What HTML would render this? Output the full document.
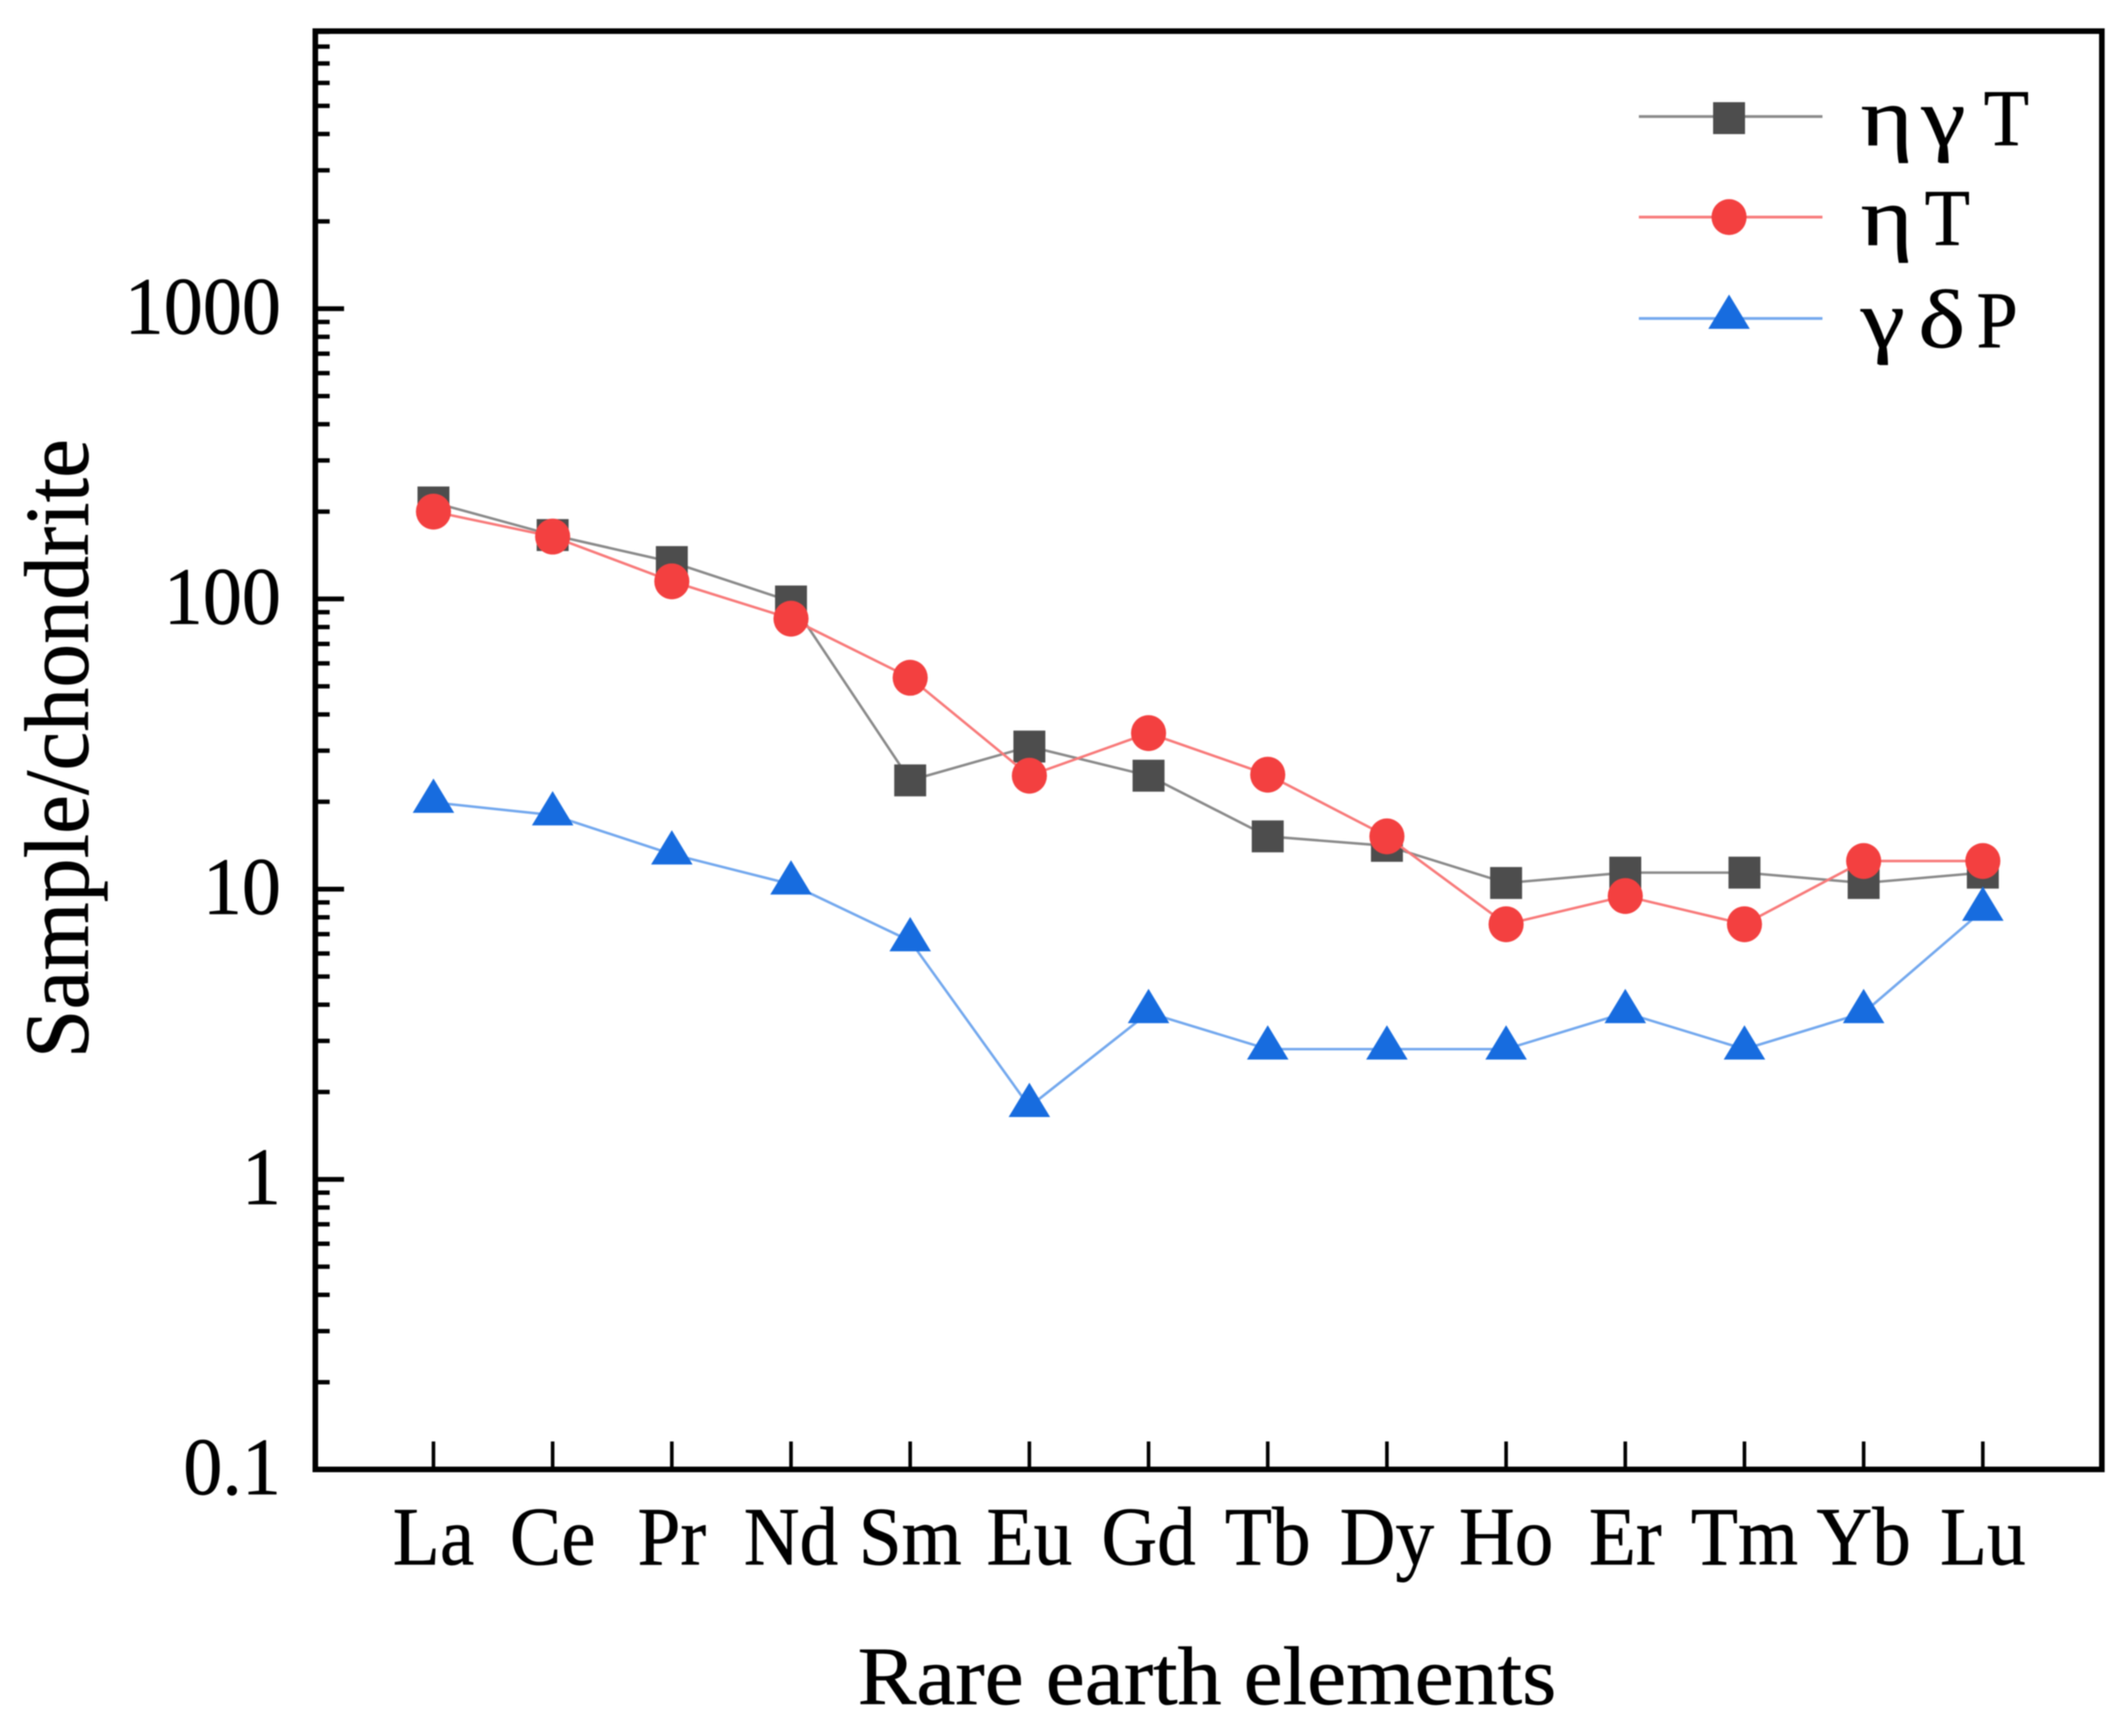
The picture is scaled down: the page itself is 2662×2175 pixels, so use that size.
<!DOCTYPE html>
<html lang="en">
<head>
<meta charset="utf-8">
<title>Rare earth element patterns</title>
<style>
html,body{margin:0;padding:0;background:#fff;width:2662px;height:2175px;overflow:hidden}
svg{display:block;filter:blur(0.7px)}
text{font-family:"Liberation Serif","DejaVu Serif",serif;fill:#000;stroke:#000;stroke-width:0.7px}
</style>
</head>
<body>
<svg id="chart" xmlns="http://www.w3.org/2000/svg" width="2662" height="2175" viewBox="0 0 2662 2175">
  <rect x="0" y="0" width="2662" height="2175" fill="#fff"/>
  <g id="ticks"></g>
  <g id="labels"></g>
  <g id="series"></g>
  <rect x="395" y="39" width="2238" height="1802" fill="none" stroke="#000" stroke-width="7"/>
  <g id="legend"></g>
  <g transform="translate(1512,2135) scale(1.06,1)">
    <text text-anchor="middle" font-size="104">Rare earth elements</text>
  </g>
  <g transform="translate(110,938) rotate(-90) scale(0.965,1)">
    <text text-anchor="middle" font-size="114">Sample/chondrite</text>
  </g>
</svg>
<script>
const categories = ["La","Ce","Pr","Nd","Sm","Eu","Gd","Tb","Dy","Ho","Er","Tm","Yb","Lu"];
const seriesNames = ["η γ T","η T","γ δ P"];
const valuesEtaGammaT = [215,166,134,98,23.7,31,24.6,15.2,14.1,10.5,11.4,11.4,10.5,11.4];
const valuesEtaT = [200,164,115,85.5,53.5,24.6,34.5,24.8,15.2,7.57,9.47,7.57,12.5,12.5];
const valuesGammaDeltaP = [19.9,18,13.2,10.4,6.63,1.78,3.75,2.81,2.81,2.81,3.75,2.81,3.75,8.45];
const yTickValues = [0.1,1,10,100,1000];
const yTickLabels = ["0.1","1","10","100","1000"];
const minorMultipliers = [2,3,4,5,6,7,8,9];

const NS = "http://www.w3.org/2000/svg";
const AXIS_LEFT = 395, AXIS_BOTTOM = 1841, AXIS_TOP = 39;
function xPos(i){ return 543 + 149.3 * i; }
function yPos(v){ return 1114 - 363.6 * (Math.log10(v) - 1); }
function make(tag, attrs, parent){
  const el = document.createElementNS(NS, tag);
  for (const k in attrs) el.setAttribute(k, attrs[k]);
  parent.appendChild(el);
  return el;
}
const ticksG = document.getElementById("ticks");
const labelsG = document.getElementById("labels");
const seriesG = document.getElementById("series");
const legendG = document.getElementById("legend");

yTickValues.forEach(function(v, i){
  const y = yPos(v);
  const t = make("line", {x1:AXIS_LEFT, x2:AXIS_LEFT+36, y1:y, y2:y, stroke:"#000", "stroke-width":6}, ticksG);
  
  
  const g = make("g", {transform:"translate(352," + (y + 31) + ") scale(0.96,1)"}, labelsG);
  
  
  const txt = make("text", {"text-anchor":"end", "font-size":102}, g);
  txt.textContent = yTickLabels[i];
  minorMultipliers.forEach(function(m){
    const my = yPos(v * m);
    if (my < AXIS_TOP) return;
    const mt = make("line", {x1:AXIS_LEFT, x2:AXIS_LEFT+18, y1:my, y2:my, stroke:"#000", "stroke-width":5.5}, ticksG);
    
    
  });
});

categories.forEach(function(c, i){
  const x = xPos(i);
  const t = make("line", {x1:x, x2:x, y1:AXIS_BOTTOM-35, y2:AXIS_BOTTOM, stroke:"#000", "stroke-width":4.5}, ticksG);
  
  
  const g = make("g", {transform:"translate(" + x + ",1960) scale(0.93,1)"}, labelsG);
  
  
  const txt = make("text", {"text-anchor":"middle", "font-size":104}, g);
  txt.textContent = c;
});

function drawMarker(kind, x, y, color, parent){
  if (kind === "square") {
    return make("rect", {x:x-20, y:y-20, width:40, height:40, fill:color}, parent);
  }
  if (kind === "circle") {
    return make("ellipse", {cx:x, cy:y, rx:22, ry:22.5, fill:color}, parent);
  }
  return make("polygon", {points:(x-26)+","+(y+13)+" "+(x+26)+","+(y+13)+" "+x+","+(y-30), fill:color}, parent);
}

function drawSeries(values, kind, lineColor, markerColor){
  const pts = values.map(function(v, i){ return xPos(i) + "," + yPos(v); }).join(" ");
  const line = make("polyline", {points:pts, fill:"none", stroke:lineColor, "stroke-width":3.2}, seriesG);
  
  
  values.forEach(function(v, i){
    const m = drawMarker(kind, xPos(i), yPos(v), markerColor, seriesG);
    
    
  });
}
drawSeries(valuesEtaGammaT, "square", "#8a8a8a", "#4d4d4d");
drawSeries(valuesEtaT, "circle", "#f87a7a", "#f34040");
drawSeries(valuesGammaDeltaP, "triangle", "#73a8ee", "#176cdf");

function drawLegendEntry(name, kind, lineColor, markerColor, y, baseline, glyphXs){
  const g = make("g", {}, legendG);
  
  
  make("line", {x1:2053, x2:2283, y1:y, y2:y, stroke:lineColor, "stroke-width":3.4}, g);
  drawMarker(kind, 2166, y + (kind === "square" ? 2 : 0), markerColor, g);
  const parts = name.split(" ");
  parts.forEach(function(part, i){
    const isLatin = /[A-Za-z]/.test(part);
    const holder = make("g", {transform:"translate(" + glyphXs[i] + "," + baseline + ") scale(" + (isLatin ? 0.92 : 1.2) + ",1)"}, g);
    const t = make("text", {"font-size":isLatin ? 101 : 104}, holder);
    t.textContent = part;
  });
}
drawLegendEntry(seriesNames[0], "square", "#8a8a8a", "#4d4d4d", 146, 182, [2331, 2407, 2485]);
drawLegendEntry(seriesNames[1], "circle", "#f87a7a", "#f34040", 272, 307, [2331, 2411]);
drawLegendEntry(seriesNames[2], "triangle", "#73a8ee", "#176cdf", 399, 435, [2331, 2403, 2476]);
</script>
</body>
</html>
